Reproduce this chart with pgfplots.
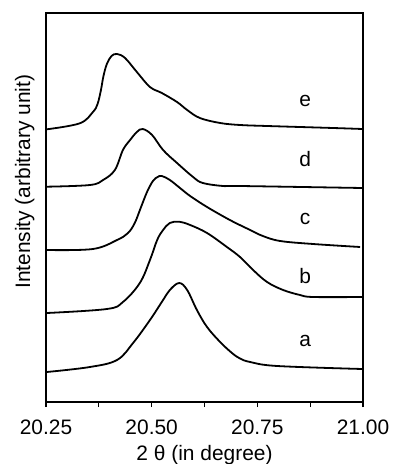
\documentclass[border=0pt]{standalone}
\usepackage{pgfplots}
\pgfplotsset{compat=1.18}
\usepackage{fontspec}
\setmainfont{Liberation Sans}
\newcommand{\lblfont}{\fontsize{21}{24}\selectfont}
\begin{document}
\begin{tikzpicture}
\begin{axis}[
  scale only axis,
  width=317bp, height=389bp,
  xmin=20.25, xmax=21.0, ymin=0, ymax=389,
  xtick={20.25,20.5,20.75,21},
  minor xtick={20.375,20.625,20.875},
  xtick pos=bottom,
  ytick=\empty,
  tick align=outside,
  major tick length=5bp, minor tick length=5bp,
  every tick/.style={black, line width=1.2bp},
  axis line style={line width=1.2bp},
  /pgf/number format/assume math mode=true,
  xticklabel style={font=\lblfont, yshift=-9bp, /pgf/number format/fixed, /pgf/number format/fixed zerofill, /pgf/number format/precision=2},
  xlabel={2 θ (in degree)},
  xlabel style={font=\lblfont, yshift=-4bp},
  ylabel={Intensity (arbitrary unit)},
  ylabel style={font=\lblfont, at={(axis description cs:-0.025,0.566)}, anchor=south},
  curve/.style={black, line width=1.8bp, smooth, tension=0.6, mark=none},
  clip=false,
]
% a
\addplot[curve] coordinates {(20.252,30) (20.354,35) (20.418,42) (20.456,59) (20.496,82) (20.527,102) (20.543,112) (20.565,119) (20.584,112) (20.607,92) (20.631,75) (20.662,60) (20.690,49) (20.709,43.5) (20.733,40) (20.797,36) (20.998,33)};
% b
\addplot[curve] coordinates {(20.252,89) (20.394,93) (20.432,100) (20.472,119) (20.496,142) (20.513,162) (20.527,172) (20.543,179) (20.565,180.3) (20.591,177) (20.631,169) (20.678,155) (20.709,145) (20.740,132) (20.773,120) (20.811,112) (20.851,107) (20.882,105) (20.998,105)};
% c
\addplot[curve] coordinates {(20.252,152) (20.361,153) (20.418,162) (20.444,169) (20.460,179) (20.474,194) (20.489,210) (20.503,221) (20.514,225) (20.524,226) (20.543,222) (20.567,214) (20.591,206) (20.631,195) (20.685,182) (20.733,172) (20.763,166) (20.804,161) (20.882,158) (20.993,155)};
% d
\addplot[curve] coordinates {(20.252,215.3) (20.354,217) (20.385,222) (20.413,232) (20.432,252) (20.449,262) (20.465,270) (20.479,273) (20.501,267) (20.527,252) (20.560,239) (20.598,225) (20.621,219) (20.669,216) (20.709,216) (20.998,214)};
% e
\addplot[curve] coordinates {(20.252,272.7) (20.330,278.7) (20.361,290) (20.372,298) (20.380,312) (20.386,326) (20.394,338) (20.405,346) (20.418,348) (20.437,344) (20.465,330) (20.496,315) (20.524,309) (20.560,300) (20.584,292) (20.614,284) (20.662,279) (20.709,277) (20.773,276) (20.929,274) (20.998,273)};
\node[font=\lblfont, anchor=base] at (axis cs:20.863,55.3) {a};
\node[font=\lblfont, anchor=base] at (axis cs:20.863,119) {b};
\node[font=\lblfont, anchor=base] at (axis cs:20.863,177) {c};
\node[font=\lblfont, anchor=base] at (axis cs:20.863,235.3) {d};
\node[font=\lblfont, anchor=base] at (axis cs:20.863,295) {e};
\end{axis}
\pgfresetboundingbox
\path (current axis.south west) ++(-46bp,-62bp) rectangle ([shift={(31bp,13bp)}]current axis.north east);
\end{tikzpicture}
\end{document}
